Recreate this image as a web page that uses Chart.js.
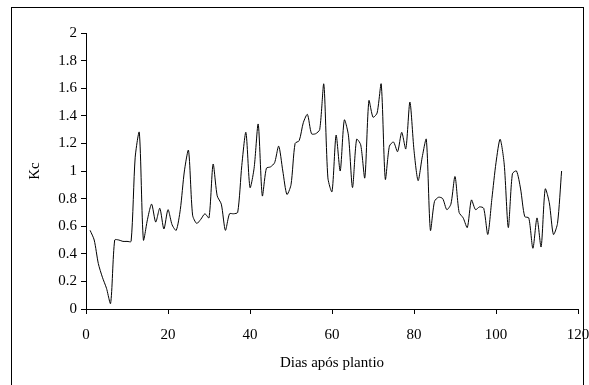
<!DOCTYPE html>
<html>
<head>
<meta charset="utf-8">
<script src="https://cdn.jsdelivr.net/npm/chart.js@4/dist/chart.umd.min.js"></script>
<style>
  html, body { margin: 0; padding: 0; background: #fff; }
  canvas { display: block; }
</style>
</head>
<body>
<canvas id="c" width="589" height="385"></canvas>
<script>
// Days after planting (x) and crop coefficient Kc (y)
const days = [];
for (let d = 1; d <= 116; d++) days.push(d);

const kc = [
  0.57, 0.50, 0.33, 0.23, 0.15, 0.04, 0.50, 0.50, 0.49, 0.49,
  0.49, 1.10, 1.28, 0.50, 0.65, 0.76, 0.63, 0.73, 0.58, 0.72,
  0.61, 0.57, 0.72, 1.00, 1.15, 0.68, 0.62, 0.65, 0.69, 0.66,
  1.05, 0.82, 0.76, 0.57, 0.69, 0.69, 0.70, 1.04, 1.28, 0.88,
  1.02, 1.34, 0.82, 1.02, 1.03, 1.06, 1.18, 1.00, 0.83, 0.90,
  1.20, 1.22, 1.35, 1.41, 1.27, 1.27, 1.30, 1.63, 0.95, 0.85,
  1.26, 1.00, 1.37, 1.26, 0.88, 1.23, 1.19, 0.95, 1.51, 1.39,
  1.42, 1.63, 0.94, 1.18, 1.21, 1.14, 1.28, 1.16, 1.50, 1.15,
  0.93, 1.10, 1.23, 0.57, 0.78, 0.81, 0.80, 0.72, 0.76, 0.96,
  0.70, 0.66, 0.59, 0.79, 0.72, 0.74, 0.73, 0.54, 0.80, 1.06,
  1.23, 1.05, 0.59, 0.98, 1.00, 0.87, 0.67, 0.66, 0.44, 0.66,
  0.45, 0.87, 0.77, 0.54, 0.62, 1.00
];

const xTickLabels = ['0', '20', '40', '60', '80', '100', '120'];
const yTickLabels = ['0', '0.2', '0.4', '0.6', '0.8', '1', '1.2', '1.4', '1.6', '1.8', '2'];
const xTitle = 'Dias após plantio';
const yTitle = 'Kc';

const points = days.map((d, i) => ({ x: d, y: kc[i] }));

const frame = {
  id: 'frame',
  afterDraw(chart) {
    const ctx = chart.ctx;
    ctx.save();
    ctx.strokeStyle = '#000';
    ctx.lineWidth = 1;
    ctx.strokeRect(11.5, 7.5, 572, 400);
    ctx.restore();
  }
};

const font = { family: '"Liberation Serif", "Times New Roman", serif', size: 15 };

new Chart(document.getElementById('c'), {
  type: 'line',
  data: {
    datasets: [{
      data: points,
      borderColor: '#000',
      borderWidth: 1,
      pointRadius: 0,
      tension: 0.25,
      fill: false
    }]
  },
  options: {
    responsive: false,
    animation: false,
    layout: { padding: { left: 0, right: 0, top: 33, bottom: 0 } },
    plugins: { legend: { display: false }, tooltip: { enabled: false } },
    scales: {
      x: {
        type: 'linear',
        min: 0, max: 120,
        afterFit(s) { s.height = 76; s.paddingRight = 11; },
        border: { display: true, color: '#000', width: 1 },
        grid: { drawOnChartArea: false, color: '#000', tickLength: 5 },
        ticks: {
          stepSize: 20,
          color: '#000',
          font: font,
          padding: 12,
          maxRotation: 0,
          callback: (v) => xTickLabels[Math.round(v / 20)]
        },
        title: {
          display: true, text: xTitle, color: '#000', font: font,
          padding: { top: 0, bottom: 13 }
        }
      },
      y: {
        min: 0, max: 2,
        afterFit(s) { s.width = 86; },
        border: { display: true, color: '#000', width: 1 },
        grid: { drawOnChartArea: false, color: '#000', tickLength: 5 },
        ticks: {
          stepSize: 0.2,
          color: '#000',
          font: font,
          padding: 4,
          callback: (v) => yTickLabels[Math.round(v / 0.2)]
        },
        title: {
          display: true, text: yTitle, color: '#000', font: font,
          padding: { top: 26, bottom: 0 }
        }
      }
    }
  },
  plugins: [frame]
});
</script>
</body>
</html>
